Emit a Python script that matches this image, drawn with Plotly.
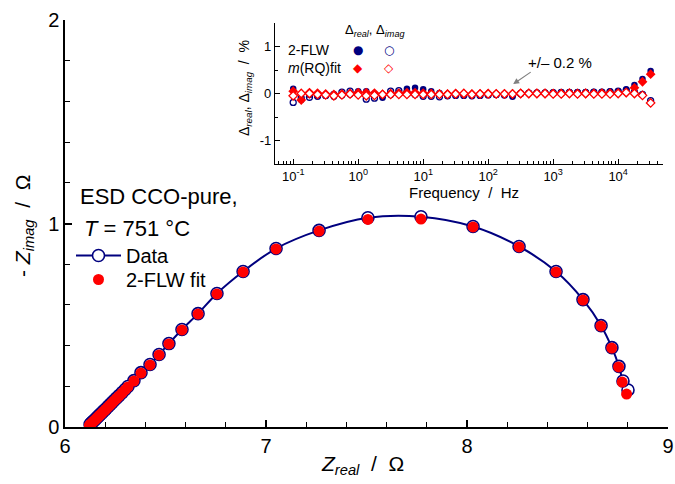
import plotly.graph_objects as go

# ---------------- main Nyquist data ----------------
data_real = [8.801, 8.776, 8.756, 8.721, 8.667, 8.577, 8.443, 8.259, 8.030, 7.771,
             7.507, 7.264, 7.050, 6.886, 6.756, 6.662, 6.582, 6.517, 6.468, 6.423,
             6.378, 6.343, 6.313, 6.299, 6.284, 6.269, 6.256, 6.244, 6.234, 6.224,
             6.214, 6.204, 6.197, 6.189, 6.182, 6.174, 6.168, 6.162, 6.157, 6.151,
             6.146, 6.140, 6.135, 6.130, 6.125]
data_imag = [0.182, 0.226, 0.298, 0.390, 0.498, 0.626, 0.764, 0.887, 0.985, 1.033,
             1.028, 0.966, 0.877, 0.764, 0.656, 0.557, 0.479, 0.410, 0.356, 0.307,
             0.267, 0.228, 0.199, 0.184, 0.169, 0.154, 0.142, 0.130, 0.120, 0.110,
             0.100, 0.090, 0.083, 0.076, 0.068, 0.061, 0.055, 0.049, 0.044, 0.038,
             0.033, 0.028, 0.023, 0.018, 0.013]
fit_real = [8.794, 8.772, 8.754, 8.720, 8.666, 8.577, 8.443, 8.259, 8.030, 7.771,
            7.507, 7.264, 7.050, 6.886, 6.756, 6.662, 6.582, 6.517, 6.468, 6.423,
            6.378, 6.343, 6.313, 6.299, 6.284, 6.269, 6.256, 6.244, 6.234, 6.224,
            6.214, 6.204, 6.197, 6.189, 6.182, 6.174, 6.168, 6.162, 6.157, 6.151,
            6.146, 6.140, 6.135, 6.128, 6.121]
fit_imag = [0.162, 0.221, 0.295, 0.388, 0.496, 0.624, 0.762, 0.885, 0.983, 1.022,
            1.020, 0.963, 0.875, 0.762, 0.654, 0.555, 0.477, 0.408, 0.354, 0.305,
            0.265, 0.226, 0.197, 0.182, 0.167, 0.152, 0.140, 0.128, 0.118, 0.108,
            0.098, 0.088, 0.081, 0.074, 0.066, 0.059, 0.053, 0.047, 0.042, 0.036,
            0.031, 0.026, 0.021, 0.015, 0.008]

# ---------------- inset residual data ----------------
freq = [0.1, 0.133, 0.178, 0.237, 0.316, 0.422, 0.562, 0.75,
        1, 1.33, 1.78, 2.37, 3.16, 4.22, 5.62, 7.5,
        10, 13.3, 17.8, 23.7, 31.6, 42.2, 56.2, 75,
        100, 133, 178, 237, 316, 422, 562, 750,
        1000, 1330, 1780, 2370, 3160, 4220, 5620, 7500,
        10000, 13300, 17800, 23700, 31600]
flw_real = [0.10, -0.14, -0.03, -0.04, -0.05, -0.07, -0.04, -0.02,
            0.05, 0.05, 0.00, -0.09, -0.03, 0.02, 0.10, 0.12,
            0.09, 0.05, 0.01, -0.02, -0.01, -0.02, -0.03, -0.02,
            -0.02, -0.03, -0.04, -0.07, -0.01, 0.01, 0.02, 0.02,
            0.02, 0.03, 0.03, 0.03, 0.03, 0.03, 0.03, 0.04,
            0.05, 0.09, 0.18, 0.31, 0.48]
flw_imag = [-0.19, -0.10, -0.08, -0.06, -0.04, -0.02, 0.03, 0.05,
            0.02, -0.12, -0.10, -0.05, 0.05, 0.06, 0.03, -0.02,
            -0.06, -0.06, -0.07, -0.05, -0.04, -0.04, -0.05, -0.04,
            -0.03, -0.02, -0.02, -0.03, 0.00, 0.01, 0.01, 0.01,
            0.02, 0.02, 0.02, 0.02, 0.02, 0.03, 0.03, 0.04,
            0.05, 0.07, 0.03, -0.02, -0.15]
rq_real = [0.05, -0.14, 0.02, 0.01, -0.01, -0.02, -0.01, 0.00,
           0.02, 0.02, 0.01, -0.02, 0.00, 0.01, 0.02, 0.02,
           0.01, 0.00, -0.01, -0.01, 0.00, -0.01, -0.01, -0.01,
           0.00, -0.01, -0.01, -0.01, 0.00, 0.00, 0.00, 0.00,
           0.00, 0.00, 0.01, 0.00, 0.00, 0.00, 0.01, 0.01,
           0.01, 0.02, 0.12, 0.25, 0.41]
rq_imag = [-0.05, 0.00, 0.00, -0.02, -0.03, -0.05, -0.03, -0.01,
           -0.03, -0.05, -0.04, -0.02, -0.02, -0.02, -0.02, -0.02,
           -0.02, -0.02, -0.02, -0.02, -0.01, 0.00, -0.02, -0.01,
           -0.01, -0.01, -0.01, -0.01, 0.00, 0.00, 0.00, 0.00,
           -0.01, -0.01, 0.00, -0.01, 0.00, -0.01, -0.01, -0.01,
           0.00, 0.02, 0.00, -0.04, -0.20]

NAVY = "#00007f"
RED = "#ff0000"
FONT = "Arial, Liberation Sans, sans-serif"
W, H = 675, 484


def px(x):
    return x / W


def py(y):
    return 1 - y / H


fig = go.Figure()

# main plot
fig.add_trace(go.Scatter(
    x=data_real, y=data_imag, mode="lines+markers", name="Data",
    line=dict(color=NAVY, width=2, shape="spline"),
    marker=dict(symbol="circle", size=12, color="white",
                line=dict(color=NAVY, width=1.6)),
    xaxis="x", yaxis="y", legend="legend"))
fig.add_trace(go.Scatter(
    x=fit_real, y=fit_imag, mode="markers", name="2-FLW fit",
    marker=dict(symbol="circle", size=11, color=RED, line=dict(width=0)),
    xaxis="x", yaxis="y", legend="legend2"))

# inset
fig.add_trace(go.Scatter(x=freq, y=flw_imag, mode="markers", showlegend=False,
                         marker=dict(symbol="circle-open", size=6, color=NAVY,
                                     line=dict(width=1.3)),
                         xaxis="x2", yaxis="y2"))
fig.add_trace(go.Scatter(x=freq, y=flw_real, mode="markers", showlegend=False,
                         marker=dict(symbol="circle", size=6.5, color=NAVY),
                         xaxis="x2", yaxis="y2"))
fig.add_trace(go.Scatter(x=freq, y=rq_real, mode="markers", showlegend=False,
                         marker=dict(symbol="diamond", size=7.5, color=RED),
                         xaxis="x2", yaxis="y2"))
fig.add_trace(go.Scatter(x=freq, y=rq_imag, mode="markers", showlegend=False,
                         marker=dict(symbol="diamond", size=6.5, color="white",
                                     line=dict(color=RED, width=1.3)),
                         xaxis="x2", yaxis="y2"))

axis_common = dict(showline=True, linecolor="black", linewidth=1.5,
                   ticks="inside", tickcolor="black", showgrid=False,
                   zeroline=False, mirror=False, automargin=False)

main_left, main_right, main_top, main_bottom = 65, 668, 20, 427
ins_left, ins_right, ins_top, ins_bottom = 275, 663, 23, 164

legend_common = dict(xanchor="left", yanchor="top", bgcolor="rgba(0,0,0,0)",
                     borderwidth=0, font=dict(size=20), tracegroupgap=0,
                     itemsizing="trace", itemwidth=45)

fig.update_layout(
    template="none",
    width=W, height=H,
    margin=dict(l=0, r=0, t=0, b=0, pad=0),
    paper_bgcolor="white", plot_bgcolor="white",
    font=dict(family=FONT, color="black"),
    xaxis=dict(domain=[px(main_left), px(main_right)], range=[6, 9],
               tickvals=[6, 7, 8, 9], ticklen=7, tickwidth=1.5,
               tickfont=dict(size=20), anchor="y",
               minor=dict(dtick=0.2, ticks="inside", ticklen=5,
                          tickcolor="black", tickwidth=1.2, showgrid=False),
               **axis_common),
    yaxis=dict(domain=[py(main_bottom), py(main_top)], range=[0, 2],
               tickvals=[0, 1, 2], ticklen=7, tickwidth=1.5,
               tickfont=dict(size=20), anchor="x",
               minor=dict(dtick=0.2, ticks="inside", ticklen=5,
                          tickcolor="black", tickwidth=1.2, showgrid=False),
               **axis_common),
    xaxis2=dict(domain=[px(ins_left), px(ins_right)], type="log",
                range=[-1.28, 4.69], anchor="y2",
                tickvals=[0.1, 1, 10, 100, 1000, 10000],
                ticktext=["10<sup>-1</sup>", "10<sup>0</sup>", "10<sup>1</sup>",
                          "10<sup>2</sup>", "10<sup>3</sup>", "10<sup>4</sup>"],
                ticklen=5, tickwidth=1, tickfont=dict(size=13),
                minor=dict(ticks="inside", ticklen=3, tickcolor="black",
                           tickwidth=1, showgrid=False,
                           tickvals=[m * 10 ** e for e in range(-2, 5)
                                     for m in range(2, 10)]),
                **{**axis_common, "linewidth": 1.2}),
    yaxis2=dict(domain=[py(ins_bottom), py(ins_top)], range=[-1.5, 1.5],
                anchor="x2", tickvals=[-1, 0, 1], ticktext=["-1", "0", "1"],
                ticklen=5, tickwidth=1, tickfont=dict(size=13),
                minor=dict(dtick=0.5, ticks="inside", ticklen=3,
                           tickcolor="black", tickwidth=1, showgrid=False),
                **{**axis_common, "linewidth": 1.2}),
    legend=dict(x=px(71), y=py(236), **legend_common),
    legend2=dict(x=px(71), y=py(260), **legend_common),
)

# gray band and zero line in inset
fig.add_shape(type="rect", xref="x2 domain", yref="y2", x0=0.0, x1=0.99,
              y0=-0.2, y1=0.2, fillcolor="#c6c6c6", line=dict(width=0),
              layer="below")
fig.add_shape(type="line", xref="x2 domain", yref="y2", x0=0.0, x1=0.99,
              y0=0, y1=0, line=dict(color="black", width=1.2), layer="below")

ann = []
# axis titles
ann.append(dict(text="<i>Z</i><sub><i>real</i></sub>  /  Ω", x=px(362), y=py(465),
                xref="paper", yref="paper", showarrow=False,
                font=dict(size=21), xanchor="center", yanchor="middle"))
ann.append(dict(text="- <i>Z</i><sub><i>imag</i></sub>  /  Ω", x=px(24), y=py(226),
                xref="paper", yref="paper", showarrow=False, textangle=-90,
                font=dict(size=21), xanchor="center", yanchor="middle"))
# sample label
ann.append(dict(text="ESD CCO-pure,", x=px(78), y=py(197), xref="paper",
                yref="paper", showarrow=False, font=dict(size=22),
                xanchor="left", yanchor="middle"))
ann.append(dict(text="<i>T</i> = 751 °C", x=px(82), y=py(229), xref="paper",
                yref="paper", showarrow=False, font=dict(size=22),
                xanchor="left", yanchor="middle"))
# inset titles
ann.append(dict(text="Frequency  /  Hz", x=px(464), y=py(193), xref="paper",
                yref="paper", showarrow=False, font=dict(size=15),
                xanchor="center", yanchor="middle"))
ann.append(dict(text="Δ<sub><i>real</i></sub>, Δ<sub><i>imag</i></sub>  /  %",
                x=px(245), y=py(88), xref="paper", yref="paper",
                showarrow=False, textangle=-90, font=dict(size=14),
                xanchor="center", yanchor="middle"))
# inset legend
ann.append(dict(text="Δ<sub><i>real</i></sub>, Δ<sub><i>imag</i></sub>",
                x=px(375), y=py(31), xref="paper", yref="paper",
                showarrow=False, font=dict(size=13),
                xanchor="center", yanchor="middle"))
ann.append(dict(text="2-FLW", x=px(286), y=py(50), xref="paper", yref="paper",
                showarrow=False, font=dict(size=14), xanchor="left",
                yanchor="middle"))
ann.append(dict(text="<i>m</i>(RQ)fit", x=px(286), y=py(68), xref="paper",
                yref="paper", showarrow=False, font=dict(size=14),
                xanchor="left", yanchor="middle"))
for sym, col, xx, yy in [("●", NAVY, 358, 50), ("○", NAVY, 389, 50),
                         ("◆", RED, 358, 68), ("◇", RED, 389, 68)]:
    ann.append(dict(text=sym, x=px(xx), y=py(yy), xref="paper", yref="paper",
                    showarrow=False, font=dict(size=12, color=col,
                                               family="DejaVu Sans"),
                    xanchor="center", yanchor="middle"))
# +/- 0.2 % annotation
ann.append(dict(text="+/– 0.2 %", x=px(560), y=py(62), xref="paper",
                yref="paper", showarrow=False, font=dict(size=15),
                xanchor="center", yanchor="middle"))
ann.append(dict(text="", x=2.385, y=0.2, xref="x2", yref="y2",
                ax=532 - 513, ay=70 - 83, showarrow=True, arrowhead=2,
                arrowsize=1, arrowwidth=1.2, arrowcolor="#808080",
                standoff=0))
fig.update_layout(annotations=ann)

fig.write_html("out.html")
